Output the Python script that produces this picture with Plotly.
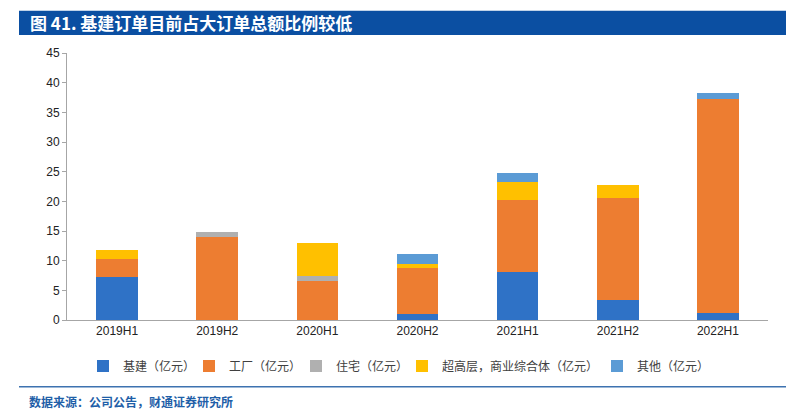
import plotly.graph_objects as go

categories = ["2019H1", "2019H2", "2020H1", "2020H2", "2021H1", "2021H2", "2022H1"]
infra = [7.25, 0, 0, 0.95, 8.15, 3.35, 1.1]
factory = [3.05, 14.0, 6.6, 7.85, 12.15, 17.15, 36.2]
housing = [0, 0.9, 0.8, 0, 0, 0, 0]
highrise = [1.45, 0, 5.5, 0.7, 3.0, 2.3, 0]
other = [0, 0, 0, 1.6, 1.5, 0, 1.0]

series_names = ["基建（亿元）", "工厂（亿元）", "住宅（亿元）", "超高层，商业综合体（亿元）", "其他（亿元）"]
series_values = [infra, factory, housing, highrise, other]
series_colors = ["#2f72c6", "#ed7d31", "#b0b0b0", "#ffc000", "#5b9bd5"]
y_ticks = [0, 5, 10, 15, 20, 25, 30, 35, 40, 45]

# page offset (browser body margin)
OFF = 8
W, H = 796 - OFF, 420 - OFF
L = 67 - OFF
T = 53 - OFF
R = W - (768 - OFF)
B = H - (320 - OFF)
pw = W - L - R
ph = H - T - B


def px(x):
    return (x - OFF - L) / pw


def py(y):
    return (H - B - (y - OFF)) / ph


legend_text_starts = [114, 220, 327, 433, 628]
legend_keys = ["legend", "legend2", "legend3", "legend4", "legend5"]

fig = go.Figure()
for name, vals, col, lk in zip(series_names, series_values, series_colors, legend_keys):
    fig.add_trace(go.Bar(x=categories, y=vals, name=name, legend=lk,
                         marker=dict(color=col, line=dict(width=0))))

legend_layout = {}
for lk, ts in zip(legend_keys, legend_text_starts):
    legend_layout[lk] = dict(
        orientation="h", x=px(ts - 31), xanchor="left", y=py(366), yanchor="middle",
        font=dict(family="Noto Sans CJK SC", size=12, color="#404040"),
        itemwidth=30, itemclick=False, itemdoubleclick=False,
        bgcolor="rgba(0,0,0,0)", borderwidth=0)

fig.update_layout(
    width=W, height=H,
    margin=dict(l=L, r=R, t=T, b=B, autoexpand=False),
    barmode="stack", bargap=0.584,
    paper_bgcolor="white", plot_bgcolor="white",
    showlegend=True,
    font=dict(family="Liberation Sans, Arial", size=12, color="#333333"),
    xaxis=dict(showline=True, linecolor="#a6a6a6", linewidth=1, ticks="",
               tickfont=dict(family="Liberation Sans, Arial", size=12, color="#222222"),
               showgrid=False, fixedrange=True),
    yaxis=dict(range=[0, 45], tickvals=y_ticks, showline=True, linecolor="#a6a6a6",
               linewidth=1, ticks="outside", ticklen=4, tickcolor="#a6a6a6",
               showgrid=False, zeroline=False,
               tickfont=dict(family="Liberation Sans, Arial", size=12, color="#222222"),
               fixedrange=True),
    shapes=[
        dict(type="rect", xref="paper", yref="paper", x0=px(19), x1=px(786),
             y0=py(35), y1=py(10.7), fillcolor="#0b4fa2", line=dict(width=0), layer="below"),
        dict(type="line", xref="paper", yref="paper", x0=px(19), x1=px(786),
             y0=py(386.7), y1=py(386.7), line=dict(color="#3d72b0", width=1.5)),
    ],
    annotations=[
        dict(text="<b>图 41. 基建订单目前占大订单总额比例较低</b>", xref="paper", yref="paper",
             x=px(28), y=py(23), xanchor="left", yanchor="middle", showarrow=False,
             font=dict(family="Noto Sans CJK SC", size=17, color="white")),
        dict(text="<b>数据来源：公司公告，财通证券研究所</b>", xref="paper", yref="paper",
             x=px(27), y=py(401), xanchor="left", yanchor="middle", showarrow=False,
             font=dict(family="Noto Sans CJK SC", size=12, color="#1f5fa8")),
    ],
    **legend_layout,
)

fig.write_html("out.html")
